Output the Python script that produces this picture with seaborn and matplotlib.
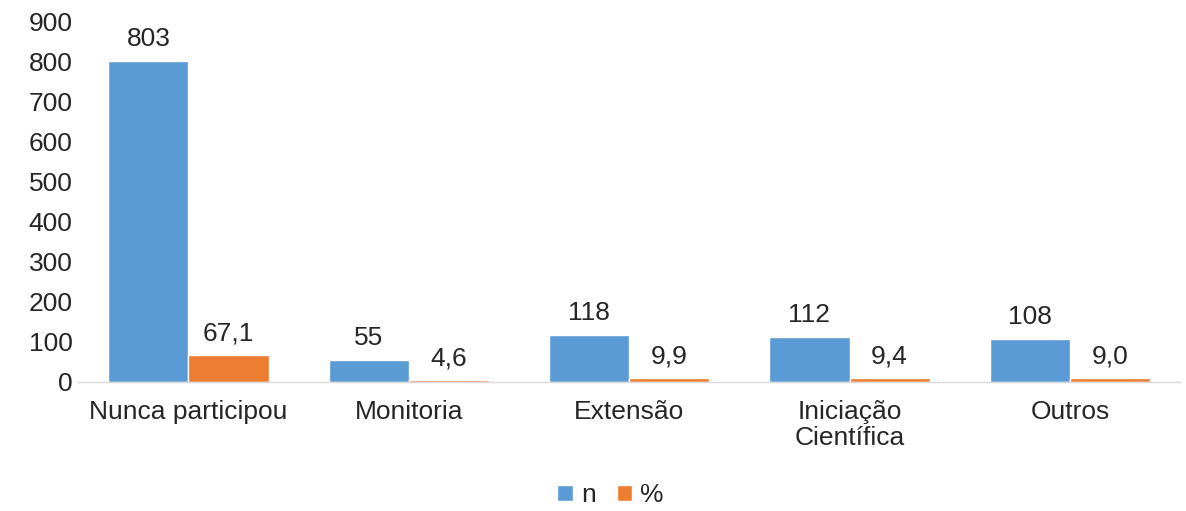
import matplotlib
matplotlib.use("Agg")
import matplotlib.pyplot as plt
import seaborn as sns
import pandas as pd

categories = ["Nunca participou", "Monitoria", "Extensão", "Iniciação\nCientífica", "Outros"]
n_values = [803, 55, 118, 112, 108]
pct_values = [67.1, 4.6, 9.9, 9.4, 9.0]
series_names = ["n", "%"]
yticks = [0, 100, 200, 300, 400, 500, 600, 700, 800, 900]

sns.set_theme(style="white")
plt.rcParams['font.family'] = ['Liberation Sans', 'DejaVu Sans']

df = pd.DataFrame({
    "cat": categories * 2,
    "serie": [series_names[0]] * len(categories) + [series_names[1]] * len(categories),
    "val": n_values + pct_values,
})

FS = 19
fig = plt.figure(figsize=(11.86, 5.11), dpi=100)
ax = fig.add_axes([0.066, 0.2525, 0.929, 0.7045])
sns.barplot(data=df, x="cat", y="val", hue="serie", order=categories,
            hue_order=series_names, palette=["#5B9BD5", "#ED7D31"],
            width=0.727, saturation=1, ax=ax, legend=True)

for cont, vals in zip(ax.containers, [n_values, pct_values]):
    labels = [f"{v:d}" if isinstance(v, int) else f"{v:.1f}".replace(".", ",") for v in vals]
    ax.bar_label(cont, labels=labels, padding=7, fontsize=FS, color="#262626")

ax.set_ylim(0, 900)
ax.set_yticks(yticks)
ax.set_xlim(-0.5, 4.5)
ax.set_xlabel("")
ax.set_ylabel("")
ax.tick_params(axis="y", labelsize=FS, length=0, pad=4, colors="#262626")
ax.tick_params(axis="x", labelsize=FS, length=0, pad=13, colors="#262626")
for lbl in ax.get_xticklabels():
    lbl.set_linespacing(1.1)
for s in ["top", "right", "left"]:
    ax.spines[s].set_visible(False)
ax.spines["bottom"].set_color("#D9D9D9")
ax.spines["bottom"].set_linewidth(1)

ax.legend(loc="center", bbox_to_anchor=(0.483, -0.315), ncol=2, frameon=False,
          fontsize=FS, handlelength=0.6, handleheight=0.6, handletextpad=0.3,
          columnspacing=0.8, borderpad=0.0)

fig.savefig("out.png", dpi=100)
